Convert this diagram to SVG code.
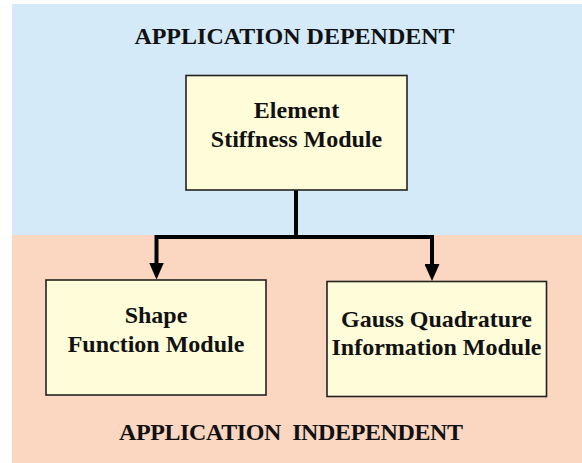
<svg xmlns="http://www.w3.org/2000/svg" width="582" height="463" viewBox="0 0 582 463">
  <defs>
    <style>
      .t { font-family: "Liberation Serif", "Times New Roman", serif; font-weight: bold; font-size: 24px; fill: #111; text-anchor: middle; }
      .box { fill: #FFFCD9; stroke: #222; stroke-width: 1.6; }
      .conn { fill: none; stroke: #000; stroke-width: 4; }
    </style>
    <marker id="arr" viewBox="0 0 17 15" refX="0.5" refY="7.5" markerWidth="17" markerHeight="15" markerUnits="userSpaceOnUse" orient="auto">
      <path d="M0,0 L17,7.5 L0,15 Z" fill="#000"/>
    </marker>
  </defs>
  <rect x="0" y="0" width="582" height="463" fill="#FFFFFF"/>
  <g id="region-dependent">
    <rect x="12" y="4" width="570" height="231" fill="#D4EAF9"/>
    <text class="t" x="294.5" y="43.5">APPLICATION DEPENDENT</text>
  </g>
  <g id="region-independent">
    <rect x="12" y="235" width="570" height="228" fill="#FBD6C1"/>
    <text class="t" x="291" y="440" xml:space="preserve" textLength="344">APPLICATION  INDEPENDENT</text>
  </g>
  <g id="connectors">
    <path class="conn" d="M296,190 V237"/>
    <path class="conn" d="M156.5,237 H432"/>
    <path class="conn" d="M156.5,235 V263" marker-end="url(#arr)"/>
    <path class="conn" d="M432,235 V264.5" marker-end="url(#arr)"/>
  </g>
  <g id="node-element-stiffness">
    <rect class="box" x="186" y="75.5" width="221" height="114.5"/>
    <text class="t" x="296.5" y="118">Element</text>
    <text class="t" x="296.5" y="147">Stiffness Module</text>
  </g>
  <g id="node-shape-function">
    <rect class="box" x="46" y="280" width="220" height="115"/>
    <text class="t" x="156" y="323">Shape</text>
    <text class="t" x="156" y="352">Function Module</text>
  </g>
  <g id="node-gauss-quadrature">
    <rect class="box" x="327" y="281.5" width="219.5" height="115"/>
    <text class="t" x="436.5" y="327">Gauss Quadrature</text>
    <text class="t" x="436.5" y="355">Information Module</text>
  </g>
</svg>
